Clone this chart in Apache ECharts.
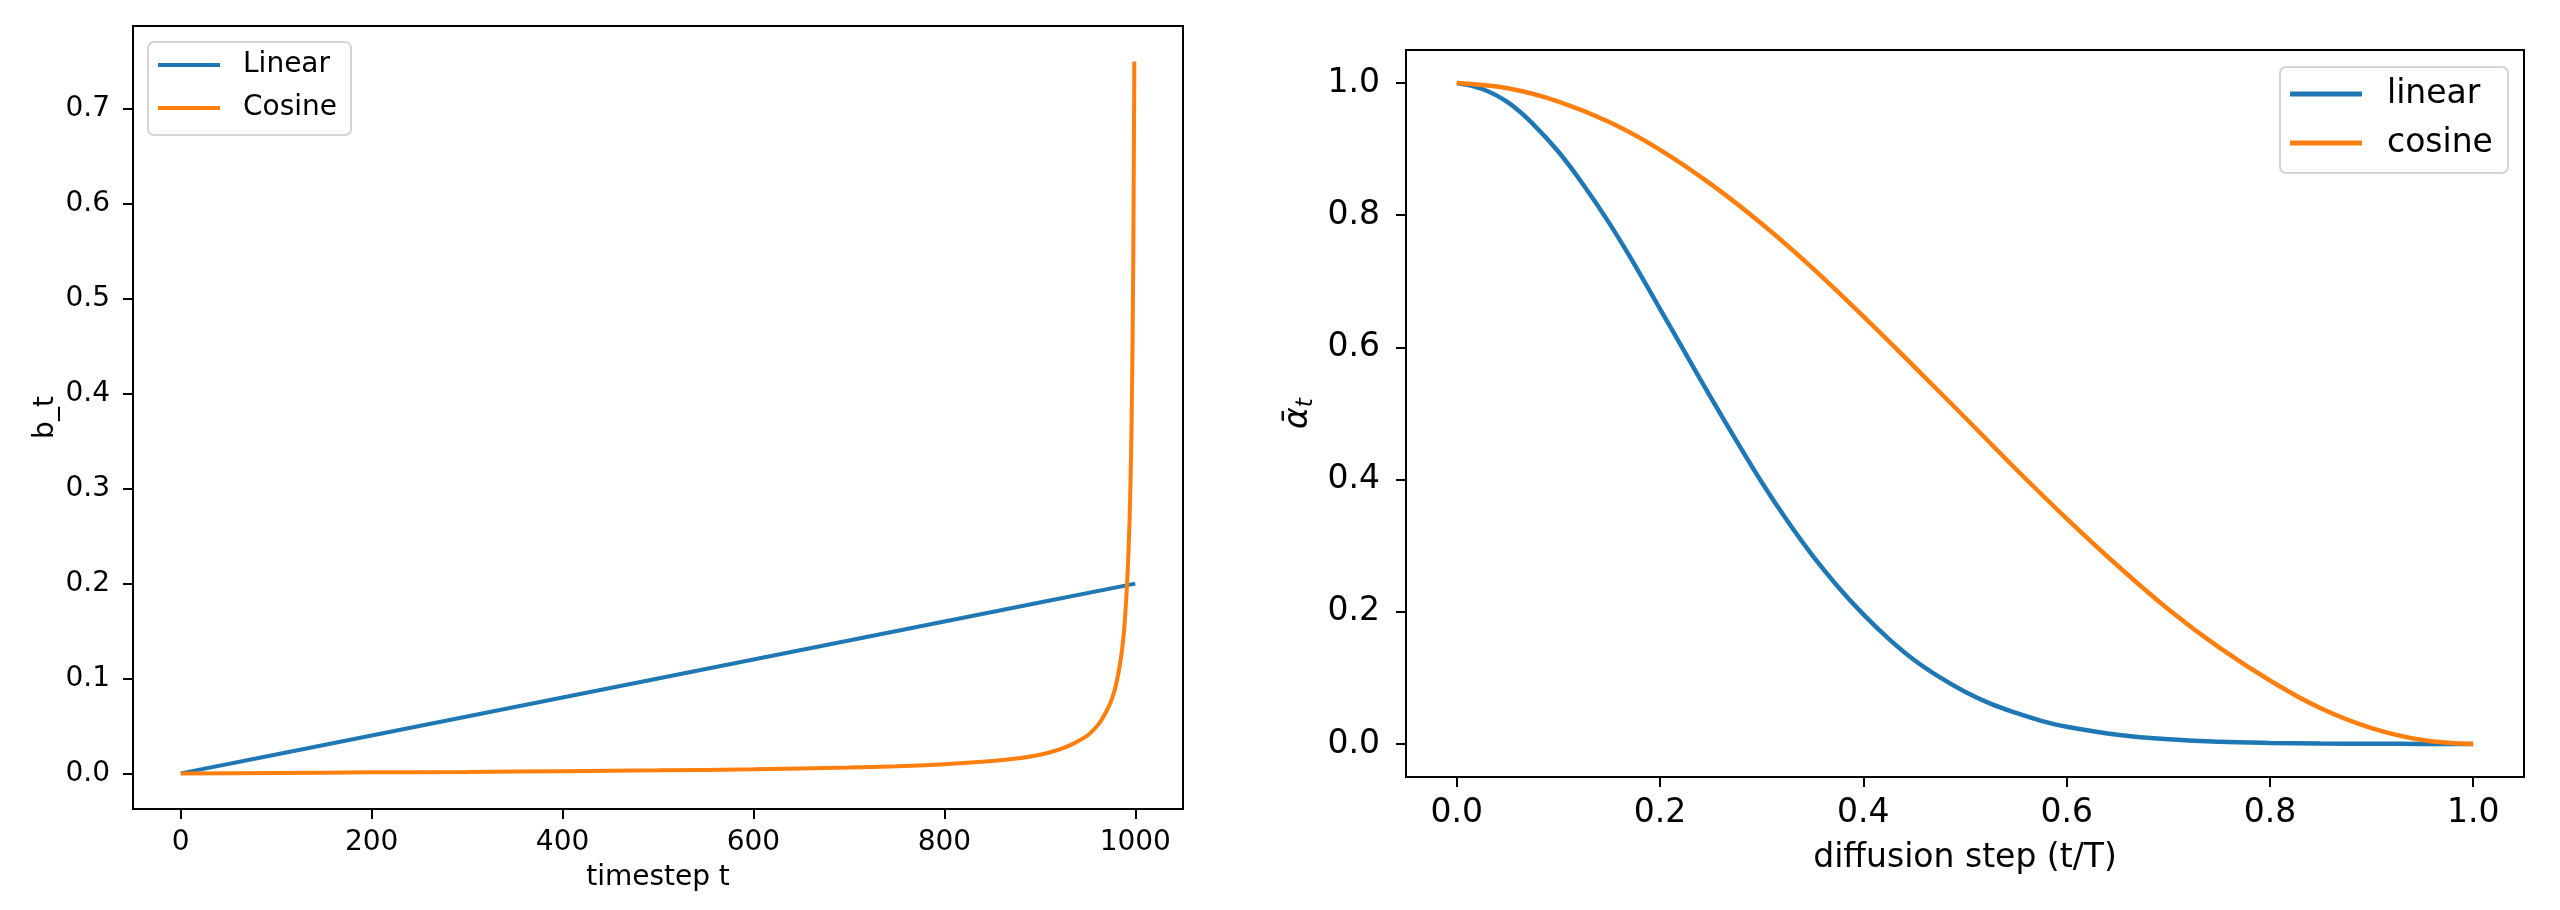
<!DOCTYPE html>
<html>
<head>
<meta charset="utf-8">
<script src="https://cdn.jsdelivr.net/npm/echarts@6/dist/echarts.min.js"></script>
<style>
html,body{margin:0;padding:0;background:#fff}
#main{width:2560px;height:910px}
</style>
</head>
<body>
<div id="main"></div>
<script type="text/javascript">
// left panel: beta per timestep
var stepLinear = [0, 100, 200, 300, 400, 500, 600, 700, 800, 900, 1000];
var betaLinear = [0, 0.02, 0.04, 0.06, 0.08, 0.10, 0.12, 0.14, 0.16, 0.18, 0.20];
var stepCosine = [0, 100, 200, 300, 400, 500, 600, 700, 750, 800, 850, 880, 900, 910, 920, 930, 940, 950, 960, 965, 970, 975, 980, 985, 988, 990, 992, 994, 995, 996, 997, 998, 999];
var betaCosine = [0.0000, 0.0005, 0.0011, 0.0016, 0.0023, 0.0032, 0.0043, 0.0061, 0.0075, 0.0096, 0.0131, 0.0162, 0.0197, 0.022, 0.025, 0.029, 0.034, 0.040, 0.050, 0.057, 0.066, 0.077, 0.094, 0.122, 0.148, 0.175, 0.212, 0.265, 0.306, 0.36, 0.44, 0.556, 0.75];
var stepTicks = [0, 200, 400, 600, 800, 1000];
var betaTicks = [0, 0.1, 0.2, 0.3, 0.4, 0.5, 0.6, 0.7];

// right panel: alpha bar over t/T
var fracLinear = [0, 0.025, 0.05, 0.075, 0.1, 0.125, 0.15, 0.175, 0.2, 0.225, 0.25, 0.275, 0.3, 0.325, 0.35, 0.375, 0.4, 0.425, 0.45, 0.475, 0.5, 0.525, 0.55, 0.575, 0.6, 0.65, 0.7, 0.75, 0.8, 0.85, 0.9, 0.95, 1.0];
var abarLinear = [1.000, 0.991, 0.971, 0.938, 0.896, 0.845, 0.788, 0.725, 0.658, 0.591, 0.524, 0.459, 0.396, 0.338, 0.285, 0.238, 0.196, 0.159, 0.127, 0.101, 0.079, 0.061, 0.047, 0.035, 0.026, 0.014, 0.007, 0.0034, 0.0016, 0.0007, 0.0003, 0.0001, 0.0000];
var fracCosine = [0, 0.05, 0.1, 0.15, 0.2, 0.25, 0.3, 0.35, 0.4, 0.45, 0.5, 0.55, 0.6, 0.65, 0.7, 0.75, 0.8, 0.85, 0.9, 0.95, 1.0];
var abarCosine = [1.000, 0.992, 0.972, 0.941, 0.899, 0.847, 0.787, 0.720, 0.647, 0.571, 0.494, 0.416, 0.341, 0.270, 0.204, 0.146, 0.096, 0.054, 0.024, 0.006, 0.000];
var fracTicks = [0, 0.2, 0.4, 0.6, 0.8, 1.0];
var abarTicks = [0, 0.2, 0.4, 0.6, 0.8, 1.0];

var BLUE = '#1f77b4', ORANGE = '#ff7f0e';
var FONT = 'DejaVu Sans';

function pairs(xs, ys) {
    var out = [];
    for (var i = 0; i < xs.length; i++) out.push([xs[i], ys[i]]);
    return out;
}

function axis(grid, min, max, ticks, fmt, fs, margin, name, gap, extra) {
    var a = {
        type: 'value', gridIndex: grid, min: min, max: max,
        name: name, nameLocation: 'middle', nameGap: gap, nameMoveOverlap: false,
        nameTextStyle: {fontFamily: FONT, fontSize: fs, color: '#000'},
        axisLine: {show: false, onZero: false},
        axisTick: {show: true, inside: false, length: 10, customValues: ticks, lineStyle: {color: '#000', width: 2}},
        axisLabel: {show: true, customValues: ticks, margin: margin, formatter: fmt,
                    fontFamily: FONT, fontSize: fs, color: '#000'},
        splitLine: {show: false}
    };
    for (var k in extra) a[k] = extra[k];
    return a;
}

function one(v) { return v.toFixed(1); }
function whole(v) { return String(Math.round(v)); }

var myChart = echarts.init(document.getElementById('main'), null, {renderer: 'canvas'});
var option = {
    animation: false,
    backgroundColor: '#fff',
    grid: [
        {left: 133, top: 26, width: 1050, height: 783, show: true, borderColor: '#000', borderWidth: 2, backgroundColor: 'transparent'},
        {left: 1406, top: 50, width: 1118, height: 727, show: true, borderColor: '#000', borderWidth: 2, backgroundColor: 'transparent'}
    ],
    legend: [
        {
            data: ['Linear', 'Cosine'], orient: 'vertical', left: 148, top: 42,
            padding: [8, 14, 12, 10], itemGap: 13, itemWidth: 62, itemHeight: 4, icon: 'rect',
            backgroundColor: '#fff', borderColor: '#d4d4d4', borderWidth: 2, borderRadius: 6,
            textStyle: {fontFamily: FONT, fontSize: 28, color: '#000', lineHeight: 30, padding: [0, 0, 0, 18]}
        },
        {
            data: ['linear', 'cosine'], orient: 'vertical', left: 2280, top: 67,
            padding: [10, 15, 13, 10], itemGap: 15, itemWidth: 72, itemHeight: 5, icon: 'rect',
            backgroundColor: '#fff', borderColor: '#d4d4d4', borderWidth: 2, borderRadius: 6,
            textStyle: {fontFamily: FONT, fontSize: 33, color: '#000', lineHeight: 34, padding: [0, 0, 0, 20]}
        }
    ],
    xAxis: [
        axis(0, -50, 1050, stepTicks, whole, 28, 20, 'timestep t', 55, {}),
        axis(1, -0.05, 1.05, fracTicks, one, 33, 20, 'diffusion step (t/T)', 65, {})
    ],
    yAxis: [
        axis(0, -0.0375, 0.7875, betaTicks, one, 28, 23, 'b_t', 73, {}),
        axis(1, -0.05, 1.05, abarTicks, one, 33, 26, '{a|\u1FB1}{t|t}', 88, {
            nameTextStyle: {
                color: '#000',
                rich: {
                    a: {fontFamily: FONT, fontStyle: 'italic', fontSize: 33, lineHeight: 40, color: '#000'},
                    t: {fontFamily: FONT, fontStyle: 'italic', fontSize: 23, lineHeight: 40, verticalAlign: 'bottom', color: '#000'}
                }
            }
        })
    ],
    series: [
        {name: 'Linear', type: 'line', xAxisIndex: 0, yAxisIndex: 0, showSymbol: false,
         lineStyle: {color: BLUE, width: 4}, itemStyle: {color: BLUE}, data: pairs(stepLinear, betaLinear)},
        {name: 'Cosine', type: 'line', xAxisIndex: 0, yAxisIndex: 0, showSymbol: false, smooth: 0.25,
         lineStyle: {color: ORANGE, width: 4}, itemStyle: {color: ORANGE}, data: pairs(stepCosine, betaCosine)},
        {name: 'linear', type: 'line', xAxisIndex: 1, yAxisIndex: 1, showSymbol: false, smooth: 0.4,
         lineStyle: {color: BLUE, width: 4.5}, itemStyle: {color: BLUE}, data: pairs(fracLinear, abarLinear)},
        {name: 'cosine', type: 'line', xAxisIndex: 1, yAxisIndex: 1, showSymbol: false, smooth: 0.4,
         lineStyle: {color: ORANGE, width: 4.5}, itemStyle: {color: ORANGE}, data: pairs(fracCosine, abarCosine)}
    ]
};
myChart.setOption(option);
</script>
</body>
</html>
